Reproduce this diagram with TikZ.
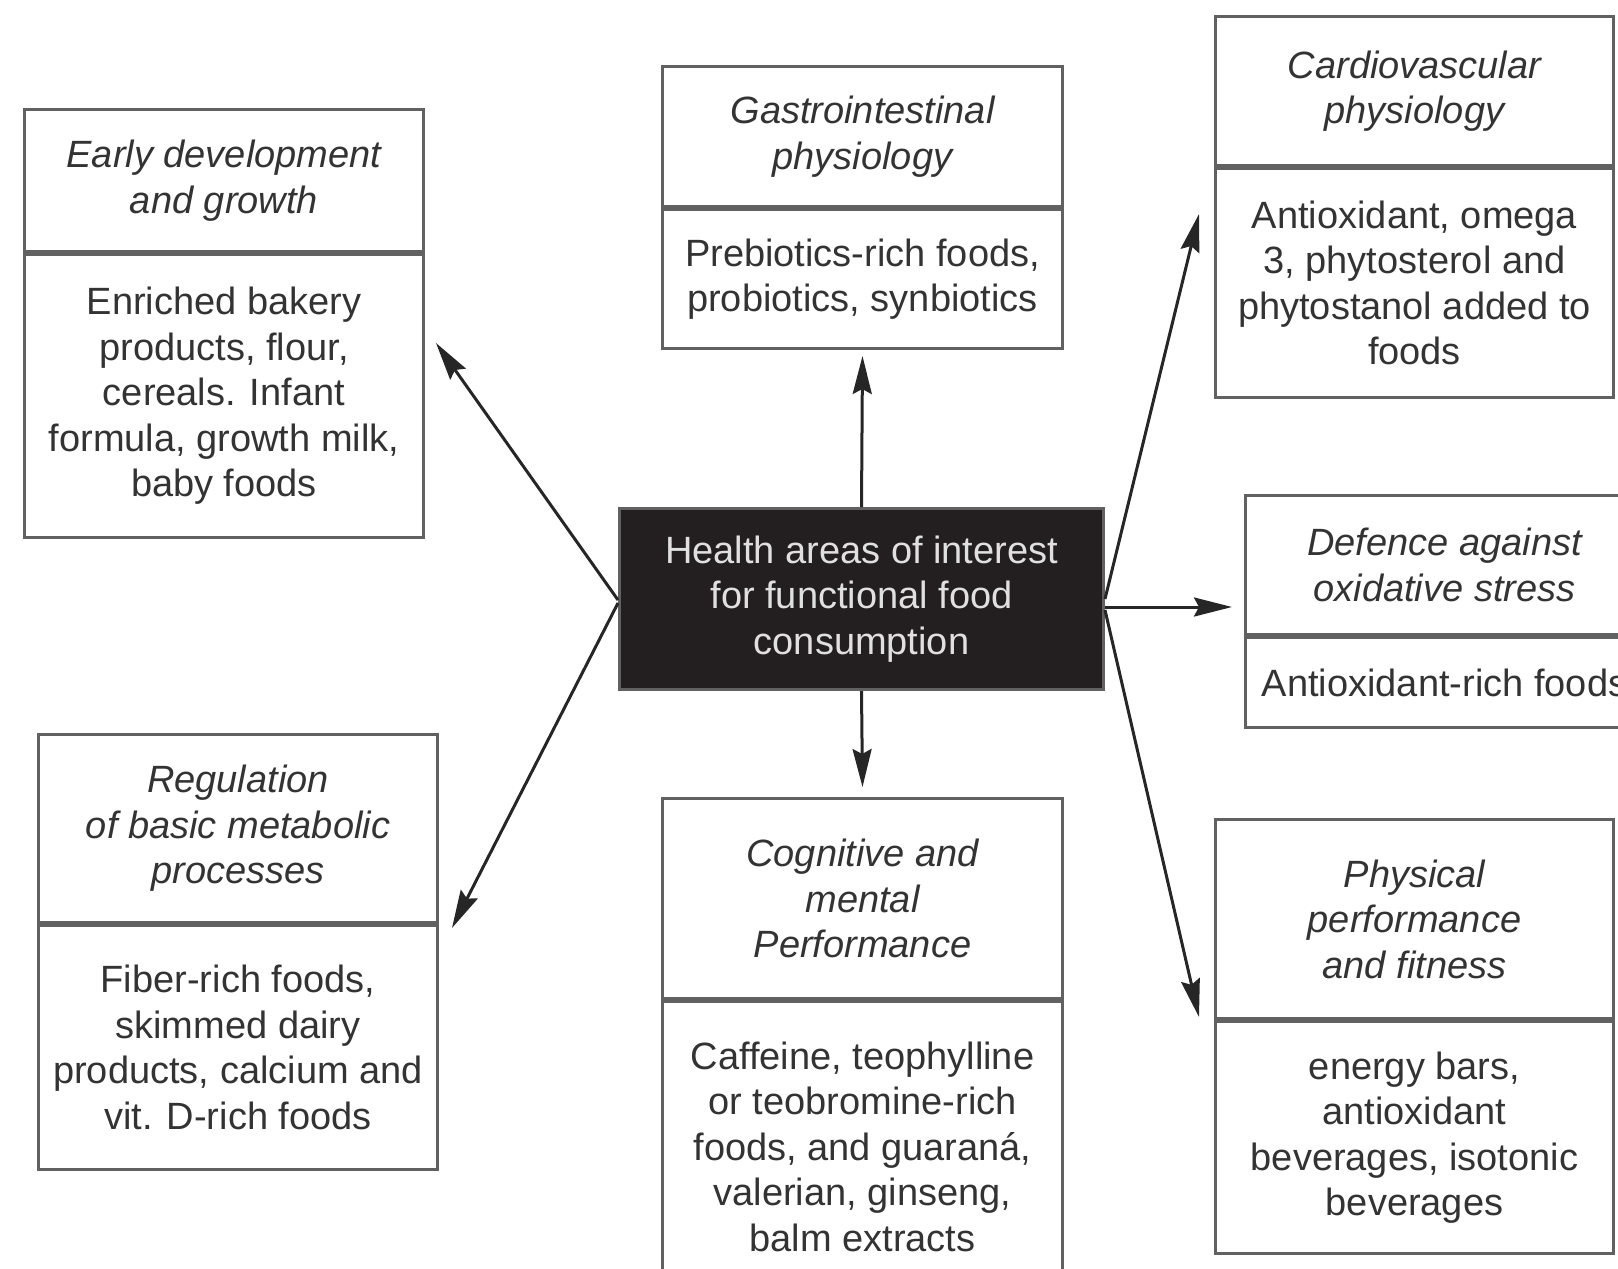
\documentclass[tikz,border=0pt]{standalone}
\usepackage{fontspec}
\setmainfont{Liberation Sans}
\usepackage{tikz}
\usetikzlibrary{positioning,arrows.meta}
\usepackage{xcolor}

\definecolor{boxline}{gray}{0.38}
\definecolor{inktext}{gray}{0.2}
\definecolor{hubfill}{HTML}{231F20}

\tikzset{
  head/.style={draw=boxline, line width=3pt, fill=white, inner sep=0pt, align=center,
    text=inktext, font=\fontsize{38}{45.5}\selectfont\itshape, anchor=north west},
  body/.style={draw=boxline, line width=3pt, fill=white, inner sep=0pt, align=center,
    text=inktext, font=\fontsize{38}{45.5}\selectfont},
  hub/.style={draw=boxline, line width=3pt, fill=hubfill, inner sep=0pt, align=center,
    text=white!88!black, font=\fontsize{38}{45.5}\selectfont, anchor=north west},
  link/.style={line width=3pt, draw=black!85, -{Stealth[length=38pt,width=19pt,inset=5pt]}}
}

\begin{document}
\begin{tikzpicture}[x=1pt,y=-1pt]
\useasboundingbox (0,0) rectangle (1618,1269);
\clip (0,0) rectangle (1618,1269);

% Centre box
\node[hub, minimum width=484pt, minimum height=181pt] (hub) at (618,507)
  {Health areas of interest\\for functional food\\consumption};

% Early development
\node[head, minimum width=399pt, minimum height=142pt] (early) at (23,108)
  {Early development\\and growth};
\node[body, minimum width=399pt, minimum height=283pt, below=0pt of early] (earlyfood)
  {Enriched bakery\\products, flour,\\cereals. Infant\\formula, growth milk,\\baby foods};

% Gastrointestinal
\node[head, minimum width=400pt, minimum height=140pt] (gastro) at (661,65)
  {Gastrointestinal\\physiology};
\node[body, minimum width=400pt, minimum height=139pt, below=0pt of gastro] (gastrofood)
  {Prebiotics-rich foods,\\probiotics, synbiotics};

% Cardiovascular
\node[head, minimum width=398pt, minimum height=149pt] (cardio) at (1214,15)
  {Cardiovascular\\physiology};
\node[body, minimum width=398pt, minimum height=229pt, below=0pt of cardio] (cardiofood)
  {Antioxidant, omega\\3, phytosterol and\\phytostanol added to\\foods};

% Oxidative stress
\node[head, minimum width=398pt, minimum height=139pt] (defence) at (1244,494)
  {Defence against\\oxidative stress};
\node[body, minimum width=398pt, minimum height=90pt, below=0pt of defence] (defencefood)
  {Antioxidant-rich foods};

% Metabolic processes
\node[head, minimum width=399pt, minimum height=188pt] (regul) at (37,733)
  {Regulation\\of basic metabolic\\processes};
\node[body, minimum width=399pt, minimum height=244pt, below=0pt of regul] (regulfood)
  {Fiber-rich foods,\\skimmed dairy\\products, calcium and\\vit. D-rich foods};

% Cognitive performance
\node[head, minimum width=400pt, minimum height=200pt] (cognit) at (661,797)
  {Cognitive and\\mental\\Performance};
\node[body, minimum width=400pt, minimum height=290pt, below=0pt of cognit] (cognitfood)
  {Caffeine, teophylline\\or teobromine-rich\\foods, and guaran\'a,\\valerian, ginseng,\\balm extracts};

% Physical performance
\node[head, minimum width=398pt, minimum height=199pt] (physic) at (1214,818)
  {Physical\\performance\\and fitness};
\node[body, minimum width=398pt, minimum height=232pt, below=0pt of physic] (physicfood)
  {energy bars,\\antioxidant\\beverages, isotonic\\beverages};

% Arrow ends
\coordinate (earlytip) at (436,343);
\coordinate (regultip) at (452,928);
\coordinate (cardiotip) at (1199,214);
\coordinate (defencetip) at (1232,607);
\coordinate (physictip) at (1199,1017);

% Arrows
\draw[link] (hub.north) -- ([yshift=-6pt]gastrofood.south);
\draw[link] (hub.south) -- ([yshift=10pt]cognit.north);
\draw[link] ([yshift=-1pt]hub.west) -- (earlytip);
\draw[link] ([yshift=-4pt]hub.west) -- (regultip);
\draw[link] (hub.east) -- (cardiotip);
\draw[link] (hub.east |- defencetip) -- (defencetip);
\draw[link] ([yshift=-11pt]hub.east) -- (physictip);
\end{tikzpicture}
\end{document}
